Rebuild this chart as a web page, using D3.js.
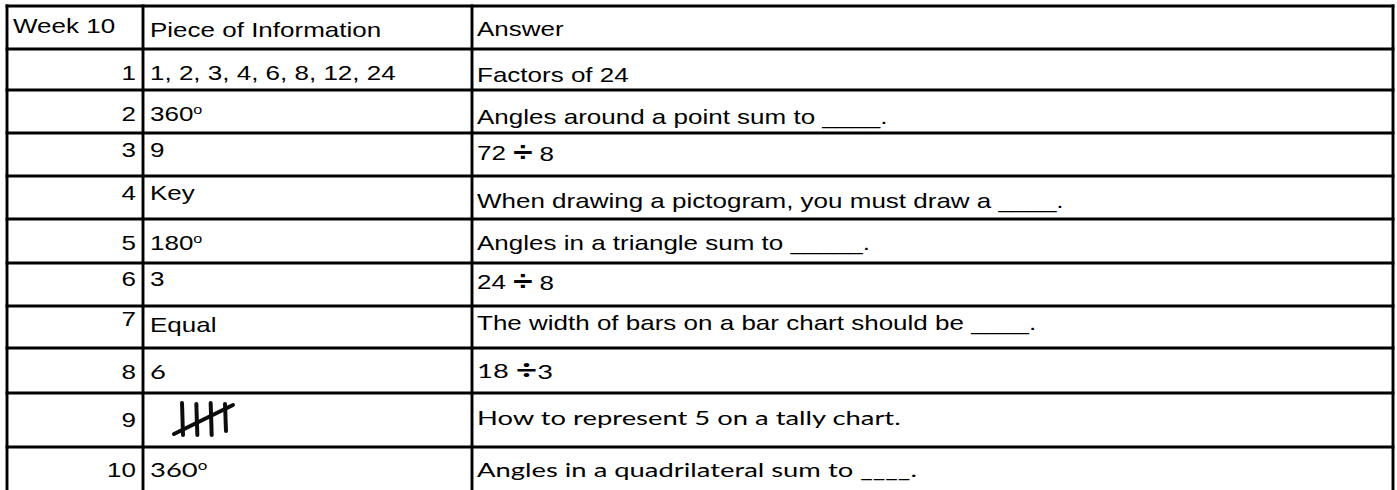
<!DOCTYPE html>
<html>
<head>
<meta charset="utf-8">
<script src="https://cdn.jsdelivr.net/npm/d3@7"></script>
<style>
  body { margin: 0; background: #fff; }
  svg { display: block; }
</style>
</head>
<body>
<div id="chart"></div>
<script>
/*global d3*/
// table content
var headers = ["Week 10", "Piece of Information", "Answer"];
var questionNumbers = [1, 2, 3, 4, 5, 6, 7, 8, 9, 10];
var pieces = ["1, 2, 3, 4, 6, 8, 12, 24", "360º", "9", "Key", "180º", "3", "Equal", "6", "", "360º"];
var answers = [
    "Factors of 24",
    "Angles around a point sum to ____.",
    "72 ÷ 8",
    "When drawing a pictogram, you must draw a ____.",
    "Angles in a triangle sum to _____.",
    "24 ÷ 8",
    "The width of bars on a bar chart should be ____.",
    "18 ÷3",
    "How to represent 5 on a tally chart.",
    "Angles in a quadrilateral sum to ____."
];
var tallyRow = 9, tallyCount = 5;

// layout
var width = 1397, height = 490;
var tableTop = 6;
var rowHeights = [43, 41, 43, 43, 43, 44, 43, 42, 45, 54, 43];
var colEdges = [7, 143, 472, 1393];
// baseline distance from row top (header first)
var baseNum = [27, 31, 31, 24, 24, 31, 23, 20, 31, 34, 30];
var basePiece = [31, 31, 31, 24, 24, 31, 23, 26, 31, 34, 30];
var baseAnswer = [30, 33, 34, 27, 32, 31, 26, 24, 30, 32, 30];
// cells typed in the "calibri" look: row-col
var calibriCells = ["8-1", "10-1", "8-2", "9-2", "10-2"];

var arial = {family: "'Liberation Sans', Arial, sans-serif", size: 20, sx: 1.3},
    calibri = {family: "Lato, 'Open Sans', sans-serif", size: 20, sx: 1.37};

var rowEdges = [tableTop].concat(Array.from(d3.cumsum(rowHeights), function(d) { return tableTop + d; }));
var rowTop = d3.scaleOrdinal().domain(d3.range(rowEdges.length)).range(rowEdges);
var colX = d3.scaleOrdinal().domain(d3.range(colEdges.length)).range(colEdges);

var svg = d3.select("#chart")
    .append("svg")
    .attr("width", width)
    .attr("height", height);

svg.append("rect")
    .attr("width", width)
    .attr("height", height)
    .style("fill", "#fff");

function cellText(g, str, x, y, font, anchor) {
    var t = g.append("text")
        .attr("transform", "translate(" + x + "," + y + ") scale(" + font.sx + ",1)")
        .attr("font-family", font.family)
        .attr("font-size", font.size)
        .attr("text-anchor", anchor || "start")
        .attr("fill", "#000");
    var shifted = false;
    str.split(/([º÷])/).forEach(function(part) {
        if (!part) return;
        var ts = t.append("tspan");
        if (part === "º") {
            ts.text("o").attr("font-size", font.size * 0.62).attr("dy", -font.size * 0.36);
            shifted = true;
        } else if (part === "÷") {
            ts.text("÷").attr("font-weight", "bold").attr("font-size", font.size * 1.35)
              .attr("dy", font.size * 0.04);
            shifted = false;
        } else {
            ts.text(part);
            if (shifted) { ts.attr("dy", font.size * 0.36); shifted = false; }
        }
    });
    return t;
}

var textLayer = svg.append("g").attr("class", "cells");

// header
cellText(textLayer, headers[0], colX(0) + 6, rowTop(0) + baseNum[0], arial);
cellText(textLayer, headers[1], colX(1) + 7, rowTop(0) + basePiece[0], arial);
cellText(textLayer, headers[2], colX(2) + 5, rowTop(0) + baseAnswer[0], arial);

questionNumbers.forEach(function(q, i) {
    var r = i + 1;
    cellText(textLayer, String(q), colX(1) - 7, rowTop(r) + baseNum[r], arial, "end");
    if (pieces[i]) {
        cellText(textLayer, pieces[i], colX(1) + 7, rowTop(r) + basePiece[r],
            calibriCells.indexOf(r + "-1") >= 0 ? calibri : arial);
    }
    cellText(textLayer, answers[i], colX(2) + 5, rowTop(r) + baseAnswer[r],
        calibriCells.indexOf(r + "-2") >= 0 ? calibri : arial);
});

// tally marks for row 9
var blur = svg.append("defs").append("filter").attr("id", "soft");
blur.append("feGaussianBlur").attr("stdDeviation", 0.6);

var tx = d3.scaleLinear().domain([0, tallyCount - 2]).range([colX(1) + 39, colX(1) + 82]);
var tTop = rowTop(tallyRow) + 10, tBot = rowTop(tallyRow) + 42;
var line = d3.line();
var tally = svg.append("g")
    .attr("filter", "url(#soft)")
    .style("stroke", "#111")
    .style("stroke-width", 4)
    .style("stroke-linecap", "round")
    .style("fill", "none");

tally.selectAll("path.stroke")
    .data(d3.range(tallyCount - 1))
    .enter().append("path")
    .attr("class", "stroke")
    .attr("d", function(d) { return line([[tx(d), tTop + (d % 2)], [tx(d) + 1, tBot - (d === 3 ? 4 : 0)]]); });

tally.append("path")
    .attr("d", line([[tx(0) - 8, tBot - 1], [tx(tallyCount - 2) + 8, tTop + 2]]));

// grid
var grid = svg.append("g")
    .style("stroke", "#000")
    .style("stroke-width", 2.9);

grid.selectAll("line.h")
    .data(rowEdges.slice(0, rowEdges.length - 1))
    .enter().append("line")
    .attr("class", "h")
    .attr("x1", colEdges[0] - 1.4)
    .attr("x2", colEdges[colEdges.length - 1] + 1.4)
    .attr("y1", function(d) { return d; })
    .attr("y2", function(d) { return d; });

grid.selectAll("line.v")
    .data(colEdges)
    .enter().append("line")
    .attr("class", "v")
    .attr("x1", function(d) { return d; })
    .attr("x2", function(d) { return d; })
    .attr("y1", tableTop - 1.4)
    .attr("y2", height);
</script>
</body>
</html>
